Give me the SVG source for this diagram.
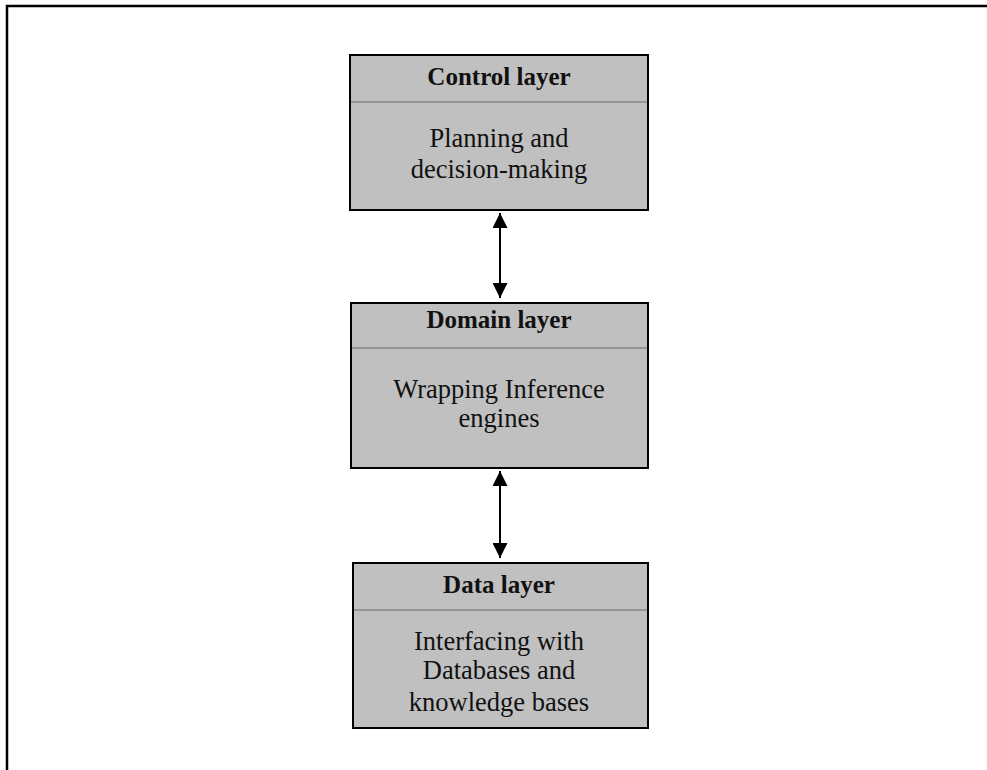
<svg xmlns="http://www.w3.org/2000/svg" width="987" height="770" viewBox="0 0 987 770">
<defs>
<style>
.box{fill:#c0c0c0;stroke:#000;stroke-width:2}
.div{stroke:#959595;stroke-width:2}
.t{font-family:"Liberation Serif","Times New Roman",serif;font-size:26.5px;fill:#111;text-anchor:middle}
.b{font-weight:bold;font-size:25px}
.c{stroke:#000;stroke-width:2;fill:none;marker-start:url(#a);marker-end:url(#a)}
</style>
<marker id="a" viewBox="0 0 10 10" refX="10" refY="5" markerWidth="7.5" markerHeight="7.5" orient="auto-start-reverse" markerUnits="strokeWidth">
<path d="M0,0 L10,5 L0,10 Z" fill="#000"/>
</marker>
</defs>
<rect width="987" height="770" fill="#fff"/>
<path d="M7,770 V6 H987" fill="none" stroke="#000" stroke-width="2.5"/>
<g id="control">
<rect class="box" x="350" y="55" width="298" height="155"/>
<line class="div" x1="351" y1="102" x2="647" y2="102"/>
<text class="t b" x="499" y="85">Control layer</text>
<text class="t" x="499" y="147">Planning and</text>
<text class="t" x="499" y="178">decision-making</text>
</g>
<g id="domain">
<rect class="box" x="351" y="303" width="297" height="165"/>
<line class="div" x1="352" y1="348" x2="647" y2="348"/>
<text class="t b" x="499" y="328">Domain layer</text>
<text class="t" x="499" y="398">Wrapping Inference</text>
<text class="t" x="499" y="427">engines</text>
</g>
<g id="data">
<rect class="box" x="353" y="563" width="295" height="165"/>
<line class="div" x1="354" y1="610" x2="647" y2="610"/>
<text class="t b" x="499" y="593">Data layer</text>
<text class="t" x="499" y="650">Interfacing with</text>
<text class="t" x="499" y="679">Databases and</text>
<text class="t" x="499" y="711">knowledge bases</text>
</g>
<g id="connectors">
<line class="c" x1="500" y1="213" x2="500" y2="298"/>
<line class="c" x1="500" y1="471" x2="500" y2="558"/>
</g>
</svg>
